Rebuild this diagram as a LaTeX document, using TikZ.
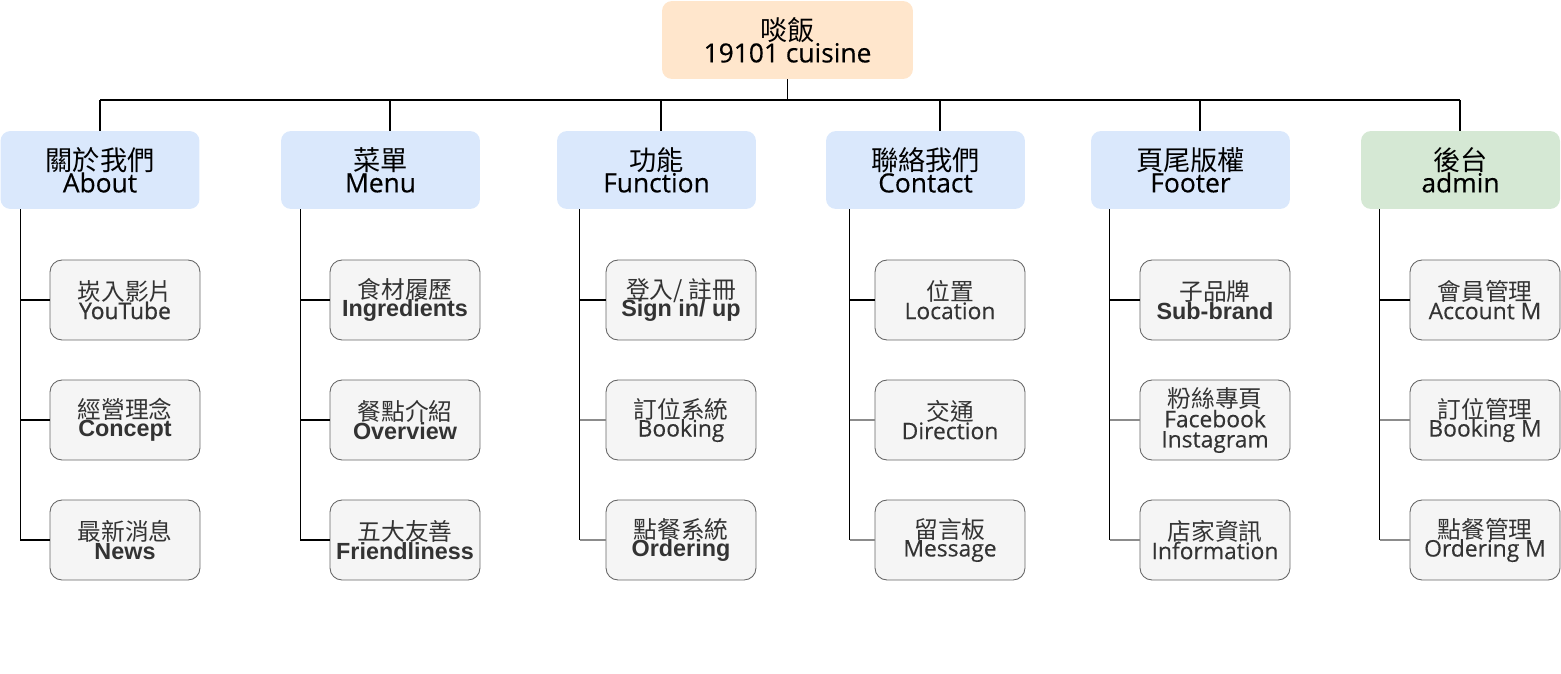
\documentclass[tikz,border=0pt]{standalone}
\usepackage{fontspec}
\setmainfont{Open Sans}[FakeBold=0.3]
\newfontfamily\cjk{Noto Sans CJK TC}
\newfontfamily\arial{Liberation Sans}
\newfontfamily\semi[FakeBold=0.9]{Open Sans}
\usetikzlibrary{calc}
\newcommand{\tightskip}{\lineskiplimit=-20pt\relax}
\newcommand{\zh}[1]{{\cjk\fontsize{13.5}{10.5}\selectfont #1}}
\newcommand{\zhbig}[1]{{\cjk\fontsize{15.5}{12.5}\selectfont #1}}
\newcommand{\en}[1]{{\arial\bfseries\fontsize{13.3}{10.5}\selectfont #1}}
\definecolor{peach}{HTML}{FFE6CC}
\definecolor{paleblue}{HTML}{DAE8FC}
\definecolor{palegreen}{HTML}{D5E8D4}
\definecolor{subfill}{HTML}{F5F5F5}
\definecolor{subline}{HTML}{666666}
\definecolor{subtext}{HTML}{333333}
\definecolor{tiegray}{HTML}{8C8C8C}
\tikzset{
    rootbox/.style={rounded corners=0.2cm, fill=peach, minimum width=5.02cm, minimum height=1.56cm,
        inner sep=0pt, align=center, font=\fontsize{15}{12.5}\selectfont\tightskip},
    mainbox/.style={rounded corners=0.2cm, fill=paleblue, minimum width=3.98cm, minimum height=1.56cm,
        inner sep=0pt, align=center, font=\fontsize{15}{12.5}\selectfont\tightskip},
    subbox/.style={rounded corners=0.24cm, draw=subline, line width=0.5pt, fill=subfill, text=subtext,
        minimum width=3cm, minimum height=1.6cm, inner sep=0pt, align=center,
        font=\fontsize{13}{10.5}\selectfont\tightskip},
    tie/.style={line width=0.6pt},
    tiegr/.style={line width=0.6pt, draw=tiegray}
}
\begin{document}
\begin{tikzpicture}[x=0.02cm, y=-0.02cm]
    \useasboundingbox (0,0) rectangle (1561,673);
    \node[rootbox] (root) at (787.5,40) {\zhbig{啖飯}\\19101 cuisine};
    \node[mainbox] (about) at (100,170) {\zhbig{關於我們}\\About};
    \node[mainbox] (menu) at (380.5,170) {\zhbig{菜單}\\Menu};
    \node[mainbox] (function) at (656.5,170) {\zhbig{功能}\\Function};
    \node[mainbox] (contact) at (925.5,170) {\zhbig{聯絡我們}\\Contact};
    \node[mainbox] (footer) at (1190.5,170) {\zhbig{頁尾版權}\\Footer};
    \node[mainbox, fill=palegreen] (admin) at (1460.5,170) {\zhbig{後台}\\admin};

    \node[subbox] (youtube) at (125,300) {\zh{崁入影片}\\{\semi YouTube}};
    \node[subbox] (concept) at (125,420) {\zh{經營理念}\\\en{Concept}};
    \node[subbox] (news) at (125,540) {\zh{最新消息}\\\en{News}};
    \node[subbox] (ingredients) at (405,300) {\zh{食材履歷}\\\en{Ingredients}};
    \node[subbox] (overview) at (405,420) {\zh{餐點介紹}\\\en{Overview}};
    \node[subbox] (friendly) at (405,540) {\zh{五大友善}\\\en{Friendliness}};
    \node[subbox] (signin) at (681,300) {\zh{登入/ 註冊}\\\en{Sign in/ up}};
    \node[subbox] (booking) at (681,420) {\zh{訂位系統}\\Booking};
    \node[subbox] (ordering) at (681,540) {\zh{點餐系統}\\\en{Ordering}};
    \node[subbox] (location) at (950,300) {\zh{位置}\\Location};
    \node[subbox] (direction) at (950,420) {\zh{交通}\\Direction};
    \node[subbox] (message) at (950,540) {\zh{留言板}\\Message};
    \node[subbox] (subbrand) at (1215,300) {\zh{子品牌}\\\en{Sub-brand}};
    \node[subbox, font=\fontsize{13}{11.5}\selectfont\tightskip] (fanpage) at (1215,420) {\zh{粉絲專頁}\\Facebook\\Instagram};
    \node[subbox] (info) at (1215,540) {\zh{店家資訊}\\Information};
    \node[subbox] (account) at (1485,300) {\zh{會員管理}\\Account M};
    \node[subbox] (bookingm) at (1485,420) {\zh{訂位管理}\\Booking M};
    \node[subbox] (orderingm) at (1485,540) {\zh{點餐管理}\\Ordering M};

    \coordinate (aboutT) at (100,100);
    \coordinate (menuT) at (390,100);
    \coordinate (functionT) at (661,100);
    \coordinate (contactT) at (940,100);
    \coordinate (footerT) at (1200,100);
    \coordinate (adminT) at (1460,100);
    \draw[tie] (root.south) -- (root.south |- aboutT);
    \draw[tie] (aboutT) -- (adminT);
    \draw[tie] (aboutT) -- (aboutT |- about.north);
    \draw[tie] (menuT) -- (menuT |- menu.north);
    \draw[tie] (functionT) -- (functionT |- function.north);
    \draw[tie] (contactT) -- (contactT |- contact.north);
    \draw[tie] (footerT) -- (footerT |- footer.north);
    \draw[tie] (adminT) -- (adminT |- admin.north);

    \coordinate (aboutS) at ($(about.south west)+(20,0)$);
    \coordinate (menuS) at ($(menu.south west)+(20,0)$);
    \coordinate (functionS) at ($(function.south west)+(23,0)$);
    \coordinate (contactS) at ($(contact.south west)+(24,0)$);
    \coordinate (footerS) at ($(footer.south west)+(19,0)$);
    \coordinate (adminS) at ($(admin.south west)+(19,0)$);
    \draw[tie] (aboutS) |- (youtube.west);
    \draw[tie] (aboutS) |- (concept.west);
    \draw[tie] (aboutS) |- (news.west);
    \draw[tie] (menuS) |- (ingredients.west);
    \draw[tie] (menuS) |- (overview.west);
    \draw[tie] (menuS) |- (friendly.west);
    \draw[tie] (functionS) |- (signin.west);
    \draw[tie] (functionS) -- (functionS |- ordering.west);
    \draw[tiegr] (functionS |- booking.west) -- (booking.west);
    \draw[tiegr] (functionS |- ordering.west) -- (ordering.west);
    \draw[tie] (contactS) |- (location.west);
    \draw[tie] (contactS) -- (contactS |- message.west);
    \draw[tiegr] (contactS |- direction.west) -- (direction.west);
    \draw[tiegr] (contactS |- message.west) -- (message.west);
    \draw[tie] (footerS) |- (subbrand.west);
    \draw[tie] (footerS) -- (footerS |- info.west);
    \draw[tiegr] (footerS |- fanpage.west) -- (fanpage.west);
    \draw[tiegr] (footerS |- info.west) -- (info.west);
    \draw[tie] (adminS) |- (account.west);
    \draw[tie] (adminS) -- (adminS |- orderingm.west);
    \draw[tiegr] (adminS |- bookingm.west) -- (bookingm.west);
    \draw[tiegr] (adminS |- orderingm.west) -- (orderingm.west);
\end{tikzpicture}
\end{document}
